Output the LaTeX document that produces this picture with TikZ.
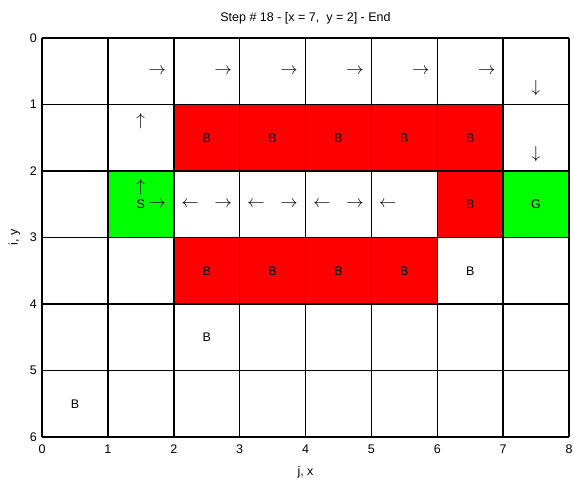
\documentclass[tikz,border=0pt]{standalone}
\usepackage{fontspec}
\setmainfont{Liberation Sans}
\usetikzlibrary{positioning}
\newcommand{\lblsize}{\fontsize{12.5}{13}\selectfont}
\newcommand{\arwsize}{\fontsize{17}{17}\selectfont}
\tikzset{
  gridln/.style  ={draw=black, line width=1.5pt},
  blocked/.style ={fill=red},
  endcell/.style ={fill=green},
  celltxt/.style ={font=\lblsize, inner sep=0pt},
  arw/.style     ={font=\arwsize, inner sep=0pt},
  ticklbl/.style ={font=\lblsize, inner sep=1pt},
}
\begin{document}
\begin{tikzpicture}[x=65.875pt, y=-66.5pt]
\useasboundingbox (-42pt,38pt) rectangle (532pt,-447pt);
% coloured cells
\foreach \c in {2,...,6} \fill[blocked] (\c,1) rectangle ++(1,1);
\foreach \c in {2,...,5} \fill[blocked] (\c,3) rectangle ++(1,1);
\fill[blocked] (6,2) rectangle ++(1,1);
\fill[endcell] (1,2) rectangle ++(1,1);
\fill[endcell] (7,2) rectangle ++(1,1);
% grid
\foreach \c in {0,...,8} \draw[gridln] (\c,0) -- (\c,6);
\foreach \r in {0,...,6} \draw[gridln] (0,\r) -- (8,\r);
% ticks
\foreach \c in {0,...,8} \node[ticklbl, anchor=north] (tx-\c) at ([yshift=-7pt]\c,6) {\c};
\foreach \r in {0,...,6} \node[ticklbl, anchor=east] (ty-\r) at ([xshift=-4pt]0,\r) {\r};
\node[ticklbl] (title) at (4,-0.3) {Step \# 18 - [x = 7,\ \ y = 2] - End};
\node[ticklbl] (xlab) at (4,6.53) {j, x};
\node[ticklbl, rotate=90] (ylab) at (-0.42,3) {i, y};
% cell labels
\foreach \c in {2,...,6} \node[celltxt] (b1-\c) at (\c+0.5,1.5) {B};
\foreach \c in {2,...,6} \node[celltxt] (b3-\c) at (\c+0.5,3.5) {B};
\node[celltxt] (b2-6) at (6.5,2.5) {B};
\node[celltxt] (b4-2) at (2.5,4.5) {B};
\node[celltxt] (b5-0) at (0.5,5.5) {B};
\node[celltxt] (start) at (1.5,2.5) {S};
\node[celltxt] (goal) at (7.5,2.5) {G};
% policy arrows
\foreach \c in {1,...,6} \node[arw] (r0-\c) at (\c+0.75,0.5) {$\rightarrow$};
\node[arw] (d0-7) at (7.5,0.75) {$\downarrow$};
\node[arw] (d1-7) at (7.5,1.75) {$\downarrow$};
\node[arw] (u1-1) at (1.5,1.25) {$\uparrow$};
\node[arw] (u2-1) at (1.5,2.25) {$\uparrow$};
\node[arw] (r2-1) at (1.75,2.5) {$\rightarrow$};
\foreach \c in {2,...,4} {
  \node[arw] (l2-\c) at (\c+0.25,2.5) {$\leftarrow$};
  \node[arw] (r2-\c) at (\c+0.75,2.5) {$\rightarrow$};
}
\node[arw] (l2-5) at (5.25,2.5) {$\leftarrow$};
\end{tikzpicture}
\end{document}
